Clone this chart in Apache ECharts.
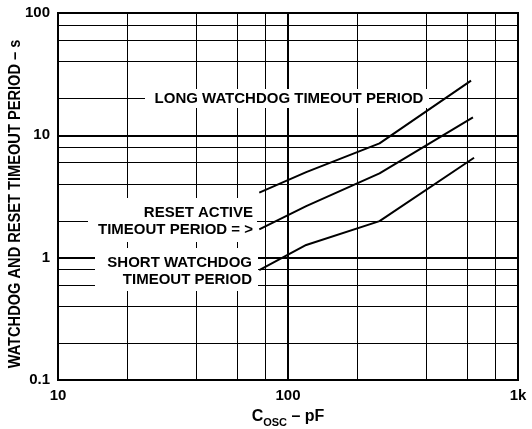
<!DOCTYPE html>
<html>
<head>
<meta charset="utf-8">
<script src="https://cdn.jsdelivr.net/npm/echarts@6/dist/echarts.min.js"></script>
<style>
html, body { margin: 0; padding: 0; background: #fff; }
#main { width: 532px; height: 429px; }
</style>
</head>
<body>
<div id="main"></div>
<script>
// C_OSC (pF) against timeout period (s)
var longX  = [75, 120, 250, 625];
var longY  = [3.4, 5.0, 8.6, 28];
var resetX = [75, 120, 250, 637];
var resetY = [1.7, 2.64, 4.89, 14];
var shortX = [75, 120, 250, 644];
var shortY = [0.79, 1.27, 1.99, 6.56];

var xTicks = [10, 100, 1000];
var xTickLabels = ['10', '100', '1k'];
var yTicks = [0.1, 1, 10, 100];
var yTickLabels = ['0.1', '1', '10', '100'];

// extra grid lines inside each decade
var xGrid = [20, 40, 60, 80, 200, 400, 600, 800];
var yGrid = [0.2, 0.4, 0.6, 0.8, 2, 4, 6, 8, 20, 40, 60, 80];

var FONT = '"Liberation Sans", Arial, sans-serif';

function pairs(xs, ys) {
    var out = [];
    for (var i = 0; i < xs.length; i++) out.push([xs[i], ys[i]]);
    return out;
}
function tickLabel(ticks, labels) {
    return function (v) {
        for (var i = 0; i < ticks.length; i++) {
            if (Math.abs(v - ticks[i]) / ticks[i] < 1e-6) return labels[i];
        }
        return '';
    };
}

var gridLines = xGrid.map(function (v) { return { xAxis: v }; })
    .concat(yGrid.map(function (v) { return { yAxis: v }; }));

var curveStyle = { color: '#000', width: 2 };

var myChart = echarts.init(document.getElementById('main'));
var option = {
    backgroundColor: '#fff',
    animation: false,
    grid: {
        left: 58, right: 14, top: 13, bottom: 49,
        containLabel: false,
        outerBoundsMode: 'none',
        show: true,
        borderColor: '#000',
        borderWidth: 2,
        backgroundColor: 'transparent'
    },
    xAxis: {
        type: 'log',
        logBase: 10,
        min: 10,
        max: 1000,
        name: '{a|C}{b|OSC}{a| – pF}',
        nameLocation: 'middle',
        nameGap: 27,
        nameTextStyle: {
            rich: {
                a: { fontFamily: FONT, fontWeight: 'bold', fontSize: 16, color: '#000', verticalAlign: 'bottom', lineHeight: 18 },
                b: { fontFamily: FONT, fontWeight: 'bold', fontSize: 11, color: '#000', verticalAlign: 'bottom', lineHeight: 12, padding: [0, 0, -3, 0] }
            }
        },
        axisLine: { show: true, lineStyle: { color: '#000', width: 2 } },
        axisTick: { show: false },
        axisLabel: {
            margin: 8,
            fontFamily: FONT,
            fontWeight: 'bold',
            fontSize: 15,
            color: '#000',
            formatter: tickLabel(xTicks, xTickLabels)
        },
        splitLine: { show: true, lineStyle: { color: '#000', width: 2 } }
    },
    yAxis: {
        type: 'log',
        logBase: 10,
        min: 0.1,
        max: 100,
        axisLine: { show: true, lineStyle: { color: '#000', width: 2 } },
        axisTick: { show: false },
        axisLabel: {
            margin: 8,
            fontFamily: FONT,
            fontWeight: 'bold',
            fontSize: 15,
            color: '#000',
            formatter: tickLabel(yTicks, yTickLabels)
        },
        splitLine: { show: true, lineStyle: { color: '#000', width: 2 } }
    },
    series: [
        {
            name: 'long',
            type: 'line',
            data: pairs(longX, longY),
            symbol: 'none',
            lineStyle: curveStyle,
            z: 3,
            markLine: {
                silent: true,
                symbol: 'none',
                label: { show: false },
                lineStyle: { color: '#000', width: 1, type: 'solid' },
                emphasis: { disabled: true },
                data: gridLines
            }
        },
        { name: 'reset', type: 'line', data: pairs(resetX, resetY), symbol: 'none', lineStyle: curveStyle, z: 3 },
        { name: 'short', type: 'line', data: pairs(shortX, shortY), symbol: 'none', lineStyle: curveStyle, z: 3 }
    ],
    graphic: [
        // y axis title, a bit condensed like the original
        { type: 'text', z: 51, x: 15, y: 204, rotation: Math.PI / 2, scaleX: 0.86, style: {
            text: 'WATCHDOG AND RESET TIMEOUT PERIOD – s', font: 'bold 17px ' + FONT,
            fill: '#000', align: 'center', verticalAlign: 'middle' } },
        // white boxes behind the annotations hide the grid
        { type: 'rect', z: 50, shape: { x: 145, y: 89, width: 284, height: 19 }, style: { fill: '#fff' } },
        { type: 'rect', z: 50, shape: { x: 88, y: 198, width: 169, height: 44 }, style: { fill: '#fff' } },
        { type: 'rect', z: 50, shape: { x: 95, y: 248, width: 163, height: 43 }, style: { fill: '#fff' } },
        { type: 'text', z: 51, x: 289, y: 98.5, style: {
            text: 'LONG WATCHDOG TIMEOUT PERIOD', font: 'bold 15px ' + FONT,
            fill: '#000', align: 'center', verticalAlign: 'middle' } },
        { type: 'text', z: 51, x: 253, y: 221, style: {
            text: 'RESET ACTIVE\nTIMEOUT PERIOD = >', font: 'bold 15px ' + FONT, lineHeight: 17,
            fill: '#000', align: 'right', verticalAlign: 'middle' } },
        { type: 'text', z: 51, x: 252, y: 271, style: {
            text: 'SHORT WATCHDOG\nTIMEOUT PERIOD', font: 'bold 15px ' + FONT, lineHeight: 17,
            fill: '#000', align: 'right', verticalAlign: 'middle' } }
    ]
};
myChart.setOption(option);
window.onresize = myChart.resize;
</script>
</body>
</html>
